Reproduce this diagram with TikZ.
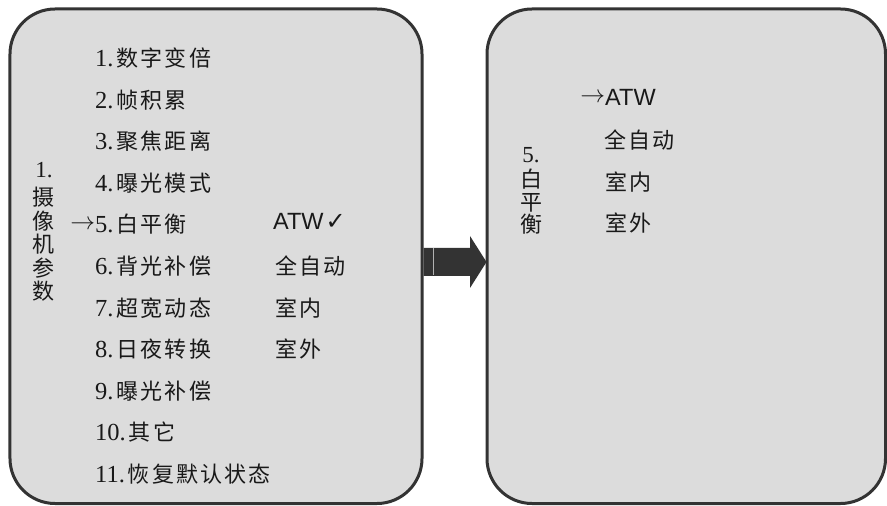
\documentclass[tikz,border=0pt]{standalone}
\usepackage{fontspec}
\usepackage{amssymb}
\setmainfont{Liberation Serif}
\newfontfamily\cjk{Noto Sans CJK SC}[LetterSpace=10]
\newfontfamily\cjkv{Noto Sans CJK SC}
\newfontfamily\sansf{Liberation Sans}
\newfontfamily\dejavu{DejaVu Sans}
\definecolor{panelfill}{RGB}{220,220,220}
\definecolor{paneldraw}{RGB}{51,51,51}
\definecolor{txt}{RGB}{25,25,25}
\newcommand\mnum[1]{{\fontsize{24.5bp}{24.5bp}\selectfont #1}}
\newcommand\mcjk[1]{{\cjk\fontsize{22bp}{22bp}\selectfont #1}}
\newcommand\matw{{\sansf\fontsize{23.5bp}{23.5bp}\selectfont ATW}}
\newcommand\marr{\raisebox{3.5bp}{\fontsize{24bp}{24bp}\selectfont$\rightarrow$}}
\tikzset{
  panel/.style={draw=paneldraw, fill=panelfill, line width=3bp, rounded corners=45bp, inner sep=0pt},
  mitem/.style={anchor=base west, inner sep=0pt, text=txt},
  vchar/.style={anchor=base, inner sep=0pt, text=txt, font=\cjkv\fontsize{22bp}{22bp}\selectfont},
  vnum/.style={anchor=base, inner sep=0pt, text=txt, font=\fontsize{23bp}{23bp}\selectfont},
}
\begin{document}
\begin{tikzpicture}[x=1bp,y=-1bp]
\useasboundingbox (0,0) rectangle (887,506);
% panels
\node[panel, minimum width=412bp, minimum height=494.5bp] (L) at (216,256.25) {};
\node[panel, minimum width=398.5bp, minimum height=494.5bp] (R) at (686.25,256.25) {};
% block arrow
\fill[paneldraw] (423.5,248) -- (470,248) -- (470,236) -- (486.5,262) -- (470,288) -- (470,276) -- (423.5,276) -- cycle;
\draw[gray!60, line width=0.6bp] (433,248.5) -- (433,275.5);
% left vertical title
\node[vnum] (v1) at (44,178) {1.};
\node[vchar] (v2) at (43,206) {摄};
\node[vchar] (v3) at (43,229.5) {像};
\node[vchar] (v4) at (43,253) {机};
\node[vchar] (v5) at (43,276.5) {参};
\node[vchar] (v6) at (43,300) {数};
% left menu
\node[mitem] (i1) at (95,66.5) {\mnum{1.}\hspace{3bp}\mcjk{数字变倍}};
\node[mitem] (i2) at (95,108.1) {\mnum{2.}\hspace{3bp}\mcjk{帧积累}};
\node[mitem] (i3) at (95,149.7) {\mnum{3.}\hspace{3bp}\mcjk{聚焦距离}};
\node[mitem] (i4) at (95,191.3) {\mnum{4.}\hspace{3bp}\mcjk{曝光模式}};
\node[mitem] (i5) at (95,232.9) {\llap{\marr}\mnum{5.}\hspace{3bp}\mcjk{白平衡}};
\node[mitem] (i6) at (95,274.5) {\mnum{6.}\hspace{3bp}\mcjk{背光补偿}};
\node[mitem] (i7) at (95,316.1) {\mnum{7.}\hspace{3bp}\mcjk{超宽动态}};
\node[mitem] (i8) at (95,357.7) {\mnum{8.}\hspace{3bp}\mcjk{日夜转换}};
\node[mitem] (i9) at (95,399.3) {\mnum{9.}\hspace{3bp}\mcjk{曝光补偿}};
\node[mitem] (i10) at (95,440.9) {\mnum{10.}\hspace{3bp}\mcjk{其它}};
\node[mitem] (i11) at (95,482.5) {\mnum{11.}\hspace{3bp}\mcjk{恢复默认状态}};
% left options
\node[mitem] (o1) at (273,230) {\matw\hspace{2bp}{\dejavu\fontsize{24bp}{24bp}\selectfont ✓}};
\node[mitem] (o2) at (275,274.5) {\mcjk{全自动}};
\node[mitem] (o3) at (275,316.1) {\mcjk{室内}};
\node[mitem] (o4) at (275,357.7) {\mcjk{室外}};
% right vertical title
\node[vnum] (w1) at (531,163) {5.};
\node[vchar] (w2) at (531,188) {白};
\node[vchar] (w3) at (531,210.5) {平};
\node[vchar] (w4) at (531,233) {衡};
% right options
\node[mitem] (r1) at (605,106) {\llap{\marr}\matw};
\node[mitem] (r2) at (604,149) {\mcjk{全自动}};
\node[mitem] (r3) at (605,191) {\mcjk{室内}};
\node[mitem] (r4) at (605,232) {\mcjk{室外}};
\end{tikzpicture}
\end{document}
